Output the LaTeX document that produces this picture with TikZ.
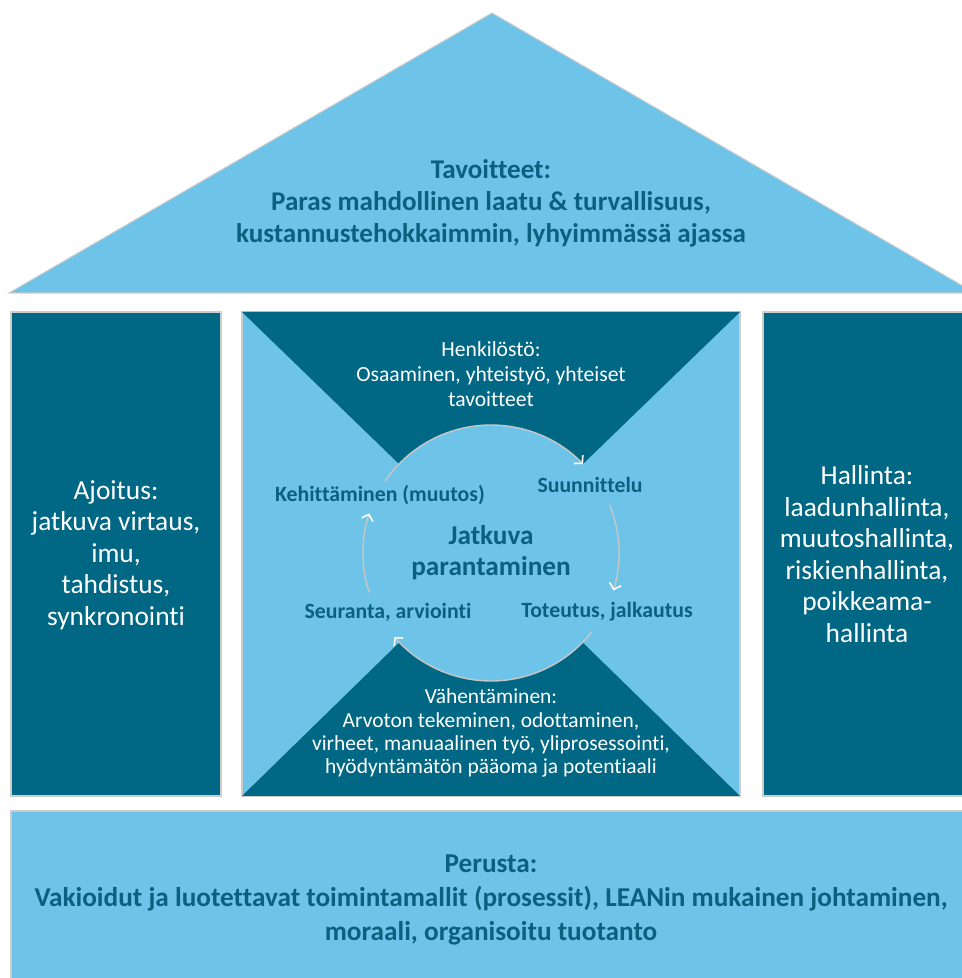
\documentclass[tikz,border=0pt]{standalone}
\usepackage{fontspec}
\setmainfont{Carlito}[RawFeature=-liga,RawFeature=-clig,RawFeature=-calt,RawFeature=-dlig]
\usetikzlibrary{arrows.meta}

\definecolor{sky}{RGB}{110,196,232}
\definecolor{petrol}{RGB}{0,103,132}
\definecolor{ink}{RGB}{10,96,126}

\tikzset{
    lightpart/.style={fill=sky,draw=black!20,line width=0.6pt},
    darkpart/.style={fill=petrol,draw=black!20,line width=0.6pt},
    headtext/.style={text=ink,align=center,font=\bfseries\fontsize{15.4}{18.2}\selectfont},
    pillartext/.style={text=white,align=center,font=\fontsize{15.6}{17.9}\selectfont},
    wedgetext/.style={text=white,align=center},
    phase/.style={text=ink,font=\bfseries\fontsize{12.4}{14}\selectfont},
    cycle arc/.style={draw=black!22,line width=0.8pt,
        -{Straight Barb[color=white,length=1.1mm,width=2.4mm,line width=0.9pt]}},
}

\begin{document}
\begin{tikzpicture}[x=0.02cm,y=0.02cm]
    \useasboundingbox (0,0) rectangle (962,978);
    \fill[white] (0,0) rectangle (962,978);

    % roof
    \filldraw[lightpart] (9,685) -- (492,965) -- (975,685) -- cycle;
    \node[headtext] (goals) at (491,775)
        {Tavoitteet:\\Paras mahdollinen laatu \& turvallisuus,\\kustannustehokkaimmin, lyhyimmässä ajassa};

    % pillars
    \filldraw[darkpart] (11,182) rectangle (221,666);
    \filldraw[darkpart] (763,182) rectangle (973,666);
    \node[pillartext] (timing) at (116,423)
        {Ajoitus:\\jatkuva virtaus,\\imu,\\tahdistus,\\synkronointi};
    \node[pillartext] (control) at (867,424)
        {Hallinta:\\laadunhallinta,\\muutoshallinta,\\riskienhallinta,\\poikkeama-\\hallinta};

    % middle block with the two wedges
    \filldraw[lightpart] (242,182) rectangle (740,666);
    \coordinate (hub) at (491,425);
    \fill[petrol] (242,666) -- (740,666) -- (hub) -- cycle;
    \fill[petrol] (242,182) -- (740,182) -- (hub) -- cycle;
    \fill[sky] (hub) circle[radius=128];

    \node[wedgetext,font=\fontsize{12.3}{14.2}\selectfont] (staff) at (491,604)
        {Henkilöstö:\\Osaaminen, yhteistyö, yhteiset\\tavoitteet};
    \node[wedgetext,font=\fontsize{12.2}{13.2}\selectfont] (waste) at (491,245)
        {Vähentäminen:\\Arvoton tekeminen, odottaminen,\\virheet, manuaalinen työ, yliprosessointi,\\hyödyntämätön pääoma ja potentiaali};

    % improvement cycle
    \draw[cycle arc] ([shift={(146:128)}]hub) arc[start angle=146,end angle=44,radius=128];
    \draw[cycle arc] ([shift={(22:128)}]hub) arc[start angle=22,end angle=-17,radius=128];
    \draw[cycle arc] ([shift={(-38:128)}]hub) arc[start angle=-38,end angle=-139,radius=128];
    \draw[cycle arc] ([shift={(198:128)}]hub) arc[start angle=198,end angle=162,radius=128];

    \node[text=ink,align=center,font=\bfseries\fontsize{15.5}{17.6}\selectfont] (kaizen) at (hub) {Jatkuva\\parantaminen};
    \node[phase] (develop) at (380,483) {Kehittäminen (muutos)};
    \node[phase] (plan) at (590,493) {Suunnittelu};
    \node[phase] (deploy) at (607,366) {Toteutus, jalkautus};
    \node[phase] (review) at (388,366) {Seuranta, arviointi};

    % foundation
    \filldraw[lightpart] (11,-5) rectangle (973,167);
    \node[headtext,font=\bfseries\fontsize{15.5}{19.3}\selectfont] (base) at (491,78)
        {Perusta:\\Vakioidut ja luotettavat toimintamallit (prosessit), LEANin mukainen johtaminen,\\moraali, organisoitu tuotanto};
\end{tikzpicture}
\end{document}
